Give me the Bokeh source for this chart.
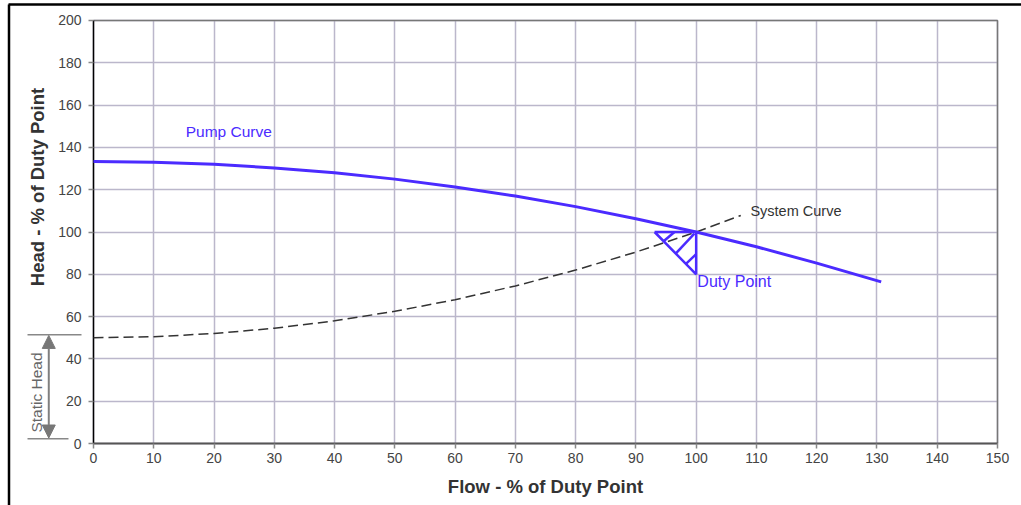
from bokeh.plotting import figure
from bokeh.models import Range1d, Arrow, NormalHead, FixedTicker, Grid, LinearAxis
from bokeh.core.properties import value
from bokeh.embed import file_html
from bokeh.resources import INLINE
import math

# ---- data ----
pump_flow = [0, 10, 20, 30, 40, 50, 60, 70, 80, 90, 100, 110, 120, 130.7]
pump_head = [133.3, 133.0, 132.0, 130.3, 128.0, 125.0, 121.3, 117.0, 112.0, 106.3, 100.0, 93.0, 85.3, 76.4]

system_flow = [0, 10, 20, 30, 40, 50, 60, 70, 80, 90, 100, 107.4]
system_head = [50.0, 50.5, 52.0, 54.5, 58.0, 62.5, 68.0, 74.5, 82.0, 90.5, 100.0, 107.8]

duty_flow = 100
duty_head = 100
static_head = 50

# duty point triangle marker (outline + hatch)
tri_x = [93.1, 100, 100, 93.1]
tri_y = [100, 100, 80, 100]
hatch_x0 = [94.6, 96.6, 98.3]
hatch_y0 = [95.6, 89.8, 84.9]
hatch_x1 = [96.4, 99.7, 100.0]
hatch_y1 = [100.0, 99.2, 89.5]

x_ticks = list(range(0, 151, 10))
y_ticks = list(range(0, 201, 20))
X_MAX = 150
Y_MAX = 200

FONT = "Liberation Sans"
BLUE = "#4B2BFF"

Y_RANGE = (-29.314, 209.456)

# The frame covers the whole canvas; the axes sit at the origin (fixed_location)
p = figure(width=1021, height=505, output_backend="svg", toolbar_location=None,
           x_range=Range1d(-15.431, 153.982), y_range=Range1d(*Y_RANGE),
           min_border=0, min_border_left=0, min_border_right=0,
           min_border_top=0, min_border_bottom=0)

p.background_fill_color = "white"
p.border_fill_color = "white"
p.outline_line_color = None

# ---- grid ----
use_grid = "cross_bounds" in Grid.properties()
if use_grid:
    p.xgrid.ticker = FixedTicker(ticks=x_ticks)
    p.ygrid.ticker = FixedTicker(ticks=y_ticks)
    p.xgrid.bounds = (0, X_MAX)
    p.xgrid.cross_bounds = (0, Y_MAX)
    p.ygrid.bounds = (0, Y_MAX)
    p.ygrid.cross_bounds = (0, X_MAX)
    for g in (p.xgrid, p.ygrid):
        g.grid_line_color = "#bbb7cb"
        g.grid_line_width = 1.5
else:
    p.xgrid.visible = False
    p.ygrid.visible = False
    gx = x_ticks[1:-1]
    gy = y_ticks[1:-1]
    p.segment(gx, [0] * len(gx), gx, [Y_MAX] * len(gx), line_color="#bbb7cb", line_width=1.5)
    p.segment([0] * len(gy), gy, [X_MAX] * len(gy), gy, line_color="#bbb7cb", line_width=1.5)

# ---- axes ----
p.xaxis.fixed_location = 0
p.yaxis.fixed_location = 0
p.xaxis.ticker = FixedTicker(ticks=x_ticks)
p.yaxis.ticker = FixedTicker(ticks=y_ticks)
p.xaxis.bounds = (0, X_MAX)
p.yaxis.bounds = (0, Y_MAX)

for ax in (p.xaxis[0], p.yaxis[0]):
    ax.minor_tick_line_color = None
    ax.major_tick_in = 0
    ax.major_tick_out = 5
    ax.major_tick_line_color = "#888888"
    ax.major_tick_line_width = 1.5
    ax.major_label_text_font = FONT
    ax.major_label_text_font_size = "14px"
    ax.major_label_text_color = "#444444"
    ax.axis_label_text_font = FONT
    ax.axis_label_text_font_size = "18.5px"
    ax.axis_label_text_font_style = "bold"
    ax.axis_label_text_color = "#333333"

p.xaxis.axis_label = "Flow - % of Duty Point"
p.yaxis.axis_line_color = None
p.xaxis.axis_line_color = "#555555"
p.xaxis.axis_line_width = 2
p.yaxis.major_label_standoff = 7
p.xaxis.major_label_standoff = 4
p.xaxis.axis_label_standoff = 10

# y axis title: carried by a label-only axis whose span is centred a little above
# the middle of the plot, as in the original
ylab_axis = LinearAxis(fixed_location=0, bounds=(33.1, Y_RANGE[1]),
                       ticker=FixedTicker(ticks=[]),
                       axis_label="Head - % of Duty Point",
                       axis_label_text_font=FONT, axis_label_text_font_size="18.5px",
                       axis_label_text_font_style="bold", axis_label_text_color="#333333",
                       axis_label_standoff=46, axis_line_color=None,
                       major_tick_line_color=None, minor_tick_line_color=None,
                       major_tick_out=0, major_tick_in=0, major_label_standoff=0)
p.add_layout(ylab_axis, "left")

# plot box: top and right edges grey, left edge black
p.line([0, X_MAX, X_MAX], [Y_MAX, Y_MAX, 0], line_color="#777777", line_width=1.5)
p.line([0, 0], [0, Y_MAX], line_color="black", line_width=1.5)

# ---- curves ----
p.line(system_flow, system_head, line_color="#333333", line_width=1.5, line_dash="10 5")
p.line(pump_flow, pump_head, line_color=BLUE, line_width=3)

# duty point marker
p.line(tri_x, tri_y, line_color=BLUE, line_width=2.5)
p.segment(hatch_x0, hatch_y0, hatch_x1, hatch_y1, line_color=BLUE, line_width=2.5)

# ---- labels ----
p.text(x=[15.3], y=[147.5], text=["Pump Curve"], text_font=value(FONT), text_font_size="15.5px",
       text_color=BLUE, text_baseline="middle")
p.text(x=[109.0], y=[109.7], text=["System Curve"], text_font=value(FONT), text_font_size="14.5px",
       text_color="#333333", text_baseline="middle")
p.text(x=[duty_flow + 0.2], y=[76.6], text=["Duty Point"], text_font=value(FONT), text_font_size="16px",
       text_color=BLUE, text_baseline="middle")

# ---- static head annotation (left of the y axis) ----
p.segment([-10.95, -10.95], [51.4, 2.2], [-1.99, -4.15], [51.4, 2.2],
          line_color="#888888", line_width=1.5)
p.add_layout(Arrow(start=NormalHead(size=13, fill_color="#777777", line_color="#777777"),
                   end=NormalHead(size=13, fill_color="#777777", line_color="#777777"),
                   x_start=-7.42, y_start=2.6, x_end=-7.42, y_end=static_head + 1.1,
                   line_color="#808080", line_width=2))
p.text(x=[-9.46], y=[24.1], text=["Static Head"], angle=math.pi / 2, text_font=value(FONT),
       text_font_size="15.5px", text_color="#666666", text_align="center", text_baseline="middle")

# ---- outer border (top and left) ----
p.segment([-14.10, -14.02], [207.57, 207.57], [154.0, -14.02], [207.57, -29.4],
          line_color="black", line_width=2.5)

open("out.html", "w").write(file_html(p, INLINE))
